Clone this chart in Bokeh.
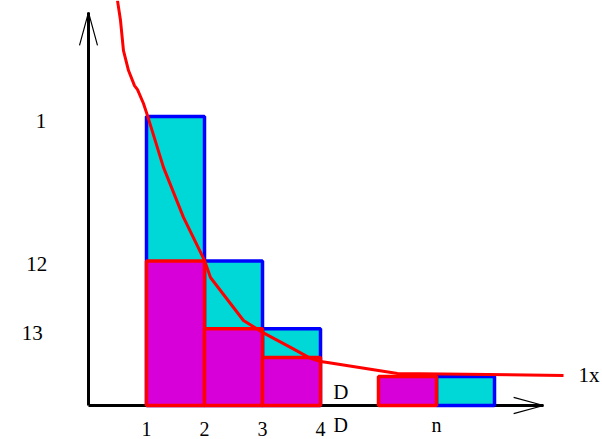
from bokeh.plotting import figure
from bokeh.models import Range1d
from bokeh.core.properties import value
from bokeh.embed import file_html
from bokeh.resources import INLINE

# --- data (chart units: 1 per step on x, 1.0 = tallest bar on y) ---
upper_left = [1, 2, 3, 6]
upper_right = [2, 3, 4, 7]
upper_top = [1.0, 0.5, 0.266, 0.1]

lower_left = [1, 2, 3, 5]
lower_right = [2, 3, 4, 6]
lower_top = [0.5, 0.266, 0.166, 0.1]

curve_x = [0.5, 0.552, 0.603, 0.69, 0.793, 0.845, 0.948, 1.017, 1.293, 1.638, 2.0,
           2.103, 2.5, 2.672, 3.0, 3.483, 3.828, 4.0, 4.121, 5.328, 8.19]
curve_y = [1.401, 1.332, 1.228, 1.159, 1.107, 1.093, 1.045, 1.003, 0.824, 0.651, 0.502,
           0.443, 0.339, 0.294, 0.253, 0.201, 0.163, 0.152, 0.149, 0.111, 0.104]

ylab_text = ["1", "12", "13"]
ylab_x = [-0.73, -0.71, -0.79]
ylab_y = [0.986, 0.488, 0.25]

xlab_text = ["1", "2", "3", "4", "D", "n"]
xlab_x = [1, 2, 3, 4, 4.35, 6]
xlab_y = -0.104

y_axis_top = 1.36
x_axis_end = 7.845

# --- figure ---
p = figure(width=602, height=439, output_backend="svg", toolbar_location=None,
           x_range=Range1d(-88 / 58, 514 / 58), y_range=Range1d(-34 / 289, 405 / 289),
           min_border=0, x_axis_type=None, y_axis_type=None)
p.grid.visible = False
p.outline_line_color = None
p.background_fill_color = "white"

# axes with open arrow heads
p.line([0, 0], [0, y_axis_top], line_color="black", line_width=3)
p.line([0, x_axis_end], [0, 0], line_color="black", line_width=3)
p.line([-0.155, 0, 0.155], [1.246, y_axis_top, 1.246], line_color="black", line_width=1.2)
p.line([7.33, x_axis_end, 7.33], [0.028, 0, -0.028], line_color="black", line_width=1.2)

# bars
p.quad(left=upper_left, right=upper_right, bottom=0, top=upper_top,
       fill_color="#00D8D8", line_color="#0000FF", line_width=3.5)
p.quad(left=lower_left, right=lower_right, bottom=0, top=lower_top,
       fill_color="#D800D8", line_color="#FF0000", line_width=3.5)

# curve
p.line(curve_x, curve_y, line_color="#FF0000", line_width=3, line_join="round")

font = value("Liberation Serif")
size = value("21px")
p.text(ylab_x, ylab_y, text=ylab_text, text_font=font, text_font_size=size,
       text_align="right", text_baseline="middle", text_color="black")
p.text(xlab_x, [xlab_y] * len(xlab_x), text=xlab_text, text_font=font, text_font_size=value("20px"),
       text_align="center", text_baseline="bottom", text_color="black")
p.text([4.35], [0.045], text=["D"], text_font=font, text_font_size=size,
       text_align="center", text_baseline="middle", text_color="black")
p.text([8.45], [0.104], text=["1x"], text_font=font, text_font_size=size,
       text_align="left", text_baseline="middle", text_color="black")

open("out.html", "w").write(file_html(p, INLINE))
